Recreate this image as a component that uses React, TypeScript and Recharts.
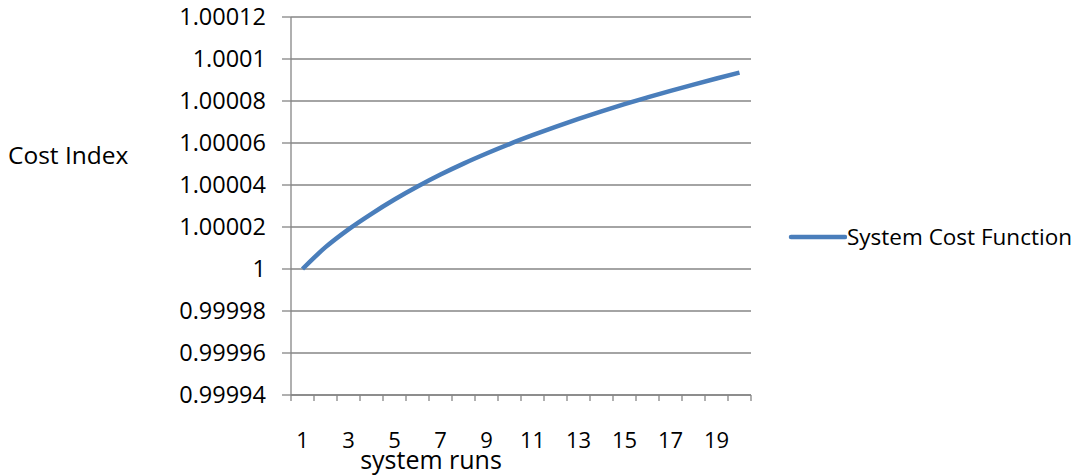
import { LineChart, Line, XAxis, YAxis, CartesianGrid, Legend } from 'recharts'

// values
const runs = [1, 2, 3, 4, 5, 6, 7, 8, 9, 10, 11, 12, 13, 14, 15, 16, 17, 18, 19, 20]
const costIndex = [
  1.0, 1.0000104, 1.0000189, 1.0000263, 1.0000331, 1.0000393, 1.000045,
  1.0000502, 1.000055, 1.0000595, 1.0000637, 1.0000677, 1.0000715, 1.0000751,
  1.0000785, 1.0000817, 1.0000848, 1.0000878, 1.0000907, 1.0000935,
]
const yTicks = [
  0.99994, 0.99996, 0.99998, 1, 1.00002, 1.00004, 1.00006, 1.00008, 1.0001, 1.00012,
]
const xLabelTicks = [1, 3, 5, 7, 9, 11, 13, 15, 17, 19]
const xMarkTicks = [
  0.5, 1.5, 2.5, 3.5, 4.5, 5.5, 6.5, 7.5, 8.5, 9.5, 10.5, 11.5, 12.5, 13.5,
  14.5, 15.5, 16.5, 17.5, 18.5, 19.5, 20.5,
]
const seriesName = 'System Cost Function'
const xTitle = 'system runs'
const yTitle = 'Cost Index'

const data = runs.map((run, i) => ({ run, cost: costIndex[i] }))

const FONT = '"Open Sans", sans-serif'
const GRAY = '#868686'
const BLUE = '#4a7ebb'

function LegendBox(props: any) {
  const item = props.payload && props.payload[0]
  if (!item) return null
  return (
    <div style={{ display: 'flex', alignItems: 'center', fontFamily: FONT, fontSize: 22.5, color: '#000', whiteSpace: 'nowrap' }}>
      <svg width={59} height={8}>
        <line x1={3} y1={4} x2={57} y2={4} stroke={item.color} strokeWidth={4.5} strokeLinecap="round" />
      </svg>
      <span>{item.value}</span>
    </div>
  )
}

// x title sits left of centre, just under the tick labels (Excel style)
function XTitle(props: any) {
  const vb = props.viewBox || {}
  return (
    <text x={vb.x + vb.width / 2 - 90} y={vb.y + 37} textAnchor="middle" fill="#000" fontSize={25} fontFamily={FONT}>
      {xTitle}
    </text>
  )
}

export default function App() {
  return (
    <div style={{ position: 'absolute', left: 0, top: 0, width: 1083, height: 475, background: '#fff' }}>
      <LineChart
        width={1083}
        height={475}
        data={data}
        margin={{ top: 17, right: 332, left: 0, bottom: 0 }}
        style={{ fontFamily: FONT }}
      >
        <CartesianGrid horizontal vertical={false} stroke={GRAY} strokeWidth={1.3} />
        <XAxis
          xAxisId="a_marks"
          dataKey="run"
          type="number"
          domain={[0.5, 20.5]}
          ticks={xMarkTicks}
          tickFormatter={() => ''}
          stroke={GRAY}
          strokeWidth={1.3}
          tickSize={6}
          height={37}
          allowDataOverflow
        />
        <XAxis
          xAxisId="b_labels"
          dataKey="run"
          type="number"
          domain={[0.5, 20.5]}
          ticks={xLabelTicks}
          axisLine={false}
          tickLine={false}
          tickSize={0}
          tickMargin={0}
          tick={{ fill: '#000', fontSize: 22 }}
          height={43}
          label={{ content: <XTitle /> }}
        />
        <YAxis
          domain={[0.99994, 1.00012]}
          ticks={yTicks}
          tickFormatter={(v: number) => String(v)}
          width={291}
          stroke={GRAY}
          strokeWidth={1.3}
          tickSize={9}
          tickMargin={16}
          tick={{ fill: '#000', fontSize: 23.5 }}
          label={{ value: yTitle, position: 'insideLeft', offset: 8, dy: -51, fill: '#000', fontSize: 24.5 }}
        />
        <Legend
          layout="horizontal"
          verticalAlign="middle"
          align="center"
          content={<LegendBox />}
          wrapperStyle={{ left: 788, right: 'auto', top: 221, width: 'auto' }}
        />
        <Line
          xAxisId="a_marks"
          type="monotone"
          dataKey="cost"
          name={seriesName}
          stroke={BLUE}
          strokeWidth={4.5}
          dot={false}
          isAnimationActive={false}
        />
      </LineChart>
    </div>
  )
}
